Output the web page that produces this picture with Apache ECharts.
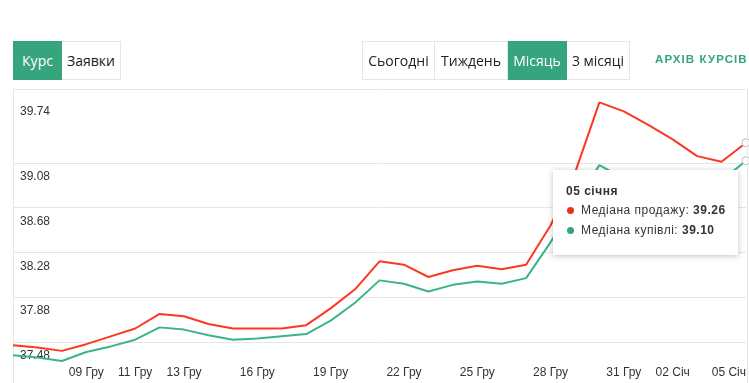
<!DOCTYPE html>
<html>
<head>
<meta charset="utf-8">
<script src="https://cdn.jsdelivr.net/npm/echarts@6/dist/echarts.min.js"></script>
<style>
  html, body { margin: 0; padding: 0; background: #fff; }
  body { width: 749px; height: 383px; overflow: hidden; position: relative; font-family: "Open Sans", "Liberation Sans", Arial, sans-serif; }
  #chart { position: absolute; left: 0; top: 0; width: 749px; height: 383px; }
  .grp { position: absolute; top: 41px; height: 39px; display: flex; }
  .btn { box-sizing: border-box; height: 39px; line-height: 37px; text-align: center; font-size: 14px; color: #222; border: 1px solid #e6e6e6; background: #fff; }
  .btn + .btn { border-left: none; }
  .btn.on { background: #36a47c; color: #fff; border-color: #36a47c; }
  .arch { position: absolute; left: 655px; top: 53px; font-family: "Liberation Sans", Arial, sans-serif; font-weight: bold; font-size: 11.5px; letter-spacing: 1.1px; color: #36a47c; }
</style>
</head>
<body>
<div id="chart"></div>
<div class="grp" style="left:13px">
  <div class="btn on" style="width:49px">Курс</div>
  <div class="btn" style="width:59px">Заявки</div>
</div>
<div class="grp" style="left:362px">
  <div class="btn" style="width:73px">Сьогодні</div>
  <div class="btn" style="width:73px">Тиждень</div>
  <div class="btn on" style="width:59px">Місяць</div>
  <div class="btn" style="width:63px">3 місяці</div>
</div>
<div class="arch">АРХІВ КУРСІВ</div>
<script>
const categories = ['06 Гру','07 Гру','08 Гру','09 Гру','10 Гру','11 Гру','12 Гру','13 Гру','14 Гру','15 Гру','16 Гру','17 Гру','18 Гру','19 Гру','20 Гру','21 Гру','22 Гру','23 Гру','24 Гру','25 Гру','26 Гру','27 Гру','28 Гру','29 Гру','30 Гру','31 Гру','01 Січ','02 Січ','03 Січ','04 Січ','05 Січ'];
const tooltipTitles = ['06 грудня','07 грудня','08 грудня','09 грудня','10 грудня','11 грудня','12 грудня','13 грудня','14 грудня','15 грудня','16 грудня','17 грудня','18 грудня','19 грудня','20 грудня','21 грудня','22 грудня','23 грудня','24 грудня','25 грудня','26 грудня','27 грудня','28 грудня','29 грудня','30 грудня','31 грудня','01 січня','02 січня','03 січня','04 січня','05 січня'];
const xTickLabels = ['09 Гру','11 Гру','13 Гру','16 Гру','19 Гру','22 Гру','25 Гру','28 Гру','31 Гру','02 Січ','05 Січ'];
const sellName = 'Медіана продажу';
const buyName = 'Медіана купівлі';
const sell = [37.45, 37.43, 37.40, 37.46, 37.53, 37.60, 37.73, 37.71, 37.64, 37.60, 37.60, 37.60, 37.63, 37.78, 37.95, 38.20, 38.17, 38.06, 38.12, 38.16, 38.13, 38.17, 38.52, 38.99, 39.62, 39.54, 39.42, 39.29, 39.14, 39.09, 39.26];
const buy  = [37.36, 37.34, 37.31, 37.39, 37.44, 37.50, 37.61, 37.59, 37.54, 37.50, 37.51, 37.53, 37.55, 37.67, 37.83, 38.03, 38.00, 37.93, 37.99, 38.02, 38.00, 38.05, 38.37, 38.72, 39.06, 38.94, 38.93, 38.92, 38.91, 38.92, 39.10];
const yTicks = [37.48, 37.88, 38.28, 38.68, 39.08, 39.74];
const yMin = 37.113;
const yMax = 39.74;
const tipIndex = 30;

const RED = '#e5331f';
const GREEN = '#36a47c';

const chart = echarts.init(document.getElementById('chart'));
const lbl = 'font-family:Liberation Sans,Arial,sans-serif;';
chart.setOption({
  animation: false,
  grid: { left: 13, right: 2, top: 89, bottom: 0, containLabel: false },
  xAxis: {
    type: 'category',
    data: categories,
    boundaryGap: false,
    axisLine: { show: false },
    axisTick: { show: false },
    splitLine: { show: false },
    axisLabel: {
      inside: true,
      margin: 4,
      interval: (i) => xTickLabels.includes(categories[i]),
      color: '#333',
      fontSize: 12,
      fontFamily: 'Liberation Sans, Arial, sans-serif',
      alignMaxLabel: 'right'
    }
  },
  yAxis: {
    type: 'value',
    min: yMin,
    max: yMax,
    axisLine: { show: true, lineStyle: { color: '#e6e6e6', width: 1 } },
    axisTick: { show: false, customValues: yTicks },
    splitLine: { show: true, lineStyle: { color: '#e6e6e6', width: 1 } },
    axisLabel: {
      inside: true,
      margin: 7,
      customValues: yTicks,
      verticalAlign: 'top',
      formatter: (v) => Math.abs(v - yMax) < 1e-6 ? '{t|' + v.toFixed(2) + '}' : '{n|' + v.toFixed(2) + '}',
      rich: {
        n: { padding: [8, 0, 0, 0], color: '#333', fontSize: 12, fontFamily: 'Liberation Sans, Arial, sans-serif' },
        t: { padding: [17, 0, 0, 0], color: '#333', fontSize: 12, fontFamily: 'Liberation Sans, Arial, sans-serif' }
      }
    }
  },
  tooltip: {
    trigger: 'axis',
    triggerOn: 'none',
    alwaysShowContent: true,
    axisPointer: { type: 'none' },
    position: [553, 170],
    backgroundColor: '#fff',
    borderWidth: 0,
    padding: [12, 13, 15, 13],
    extraCssText: 'box-shadow:0 1px 6px rgba(0,0,0,0.25);border-radius:0;width:159px;',
    formatter: (params) => {
      const idx = params[0].dataIndex;
      let s = '<div style="' + lbl + 'font-weight:bold;font-size:12px;color:#333;letter-spacing:0.5px;line-height:18px">' + tooltipTitles[idx] + '</div>';
      params.forEach(p => {
        const c = p.seriesIndex === 0 ? RED : GREEN;
        s += '<div style="' + lbl + 'font-size:12px;color:#333;line-height:20px;letter-spacing:0.5px;white-space:nowrap">' +
          '<span style="display:inline-block;width:7px;height:7px;border-radius:50%;background:' + c + ';margin:0 7px 1px 1px;vertical-align:middle"></span>' +
          p.seriesName + ': <b>' + p.value.toFixed(2) + '</b></div>';
      });
      return s;
    }
  },
  series: [
    {
      name: sellName, type: 'line', data: sell,
      showSymbol: false, symbol: 'circle', symbolSize: 8,
      lineStyle: { color: RED, width: 2 },
      itemStyle: { color: '#fff', borderColor: '#bbb', borderWidth: 1 },
      emphasis: { scale: false }
    },
    {
      name: buyName, type: 'line', data: buy,
      showSymbol: false, symbol: 'circle', symbolSize: 8,
      lineStyle: { color: GREEN, width: 2 },
      itemStyle: { color: '#fff', borderColor: '#bbb', borderWidth: 1 },
      emphasis: { scale: false }
    }
  ],
  graphic: [
    { type: 'line', shape: { x1: 747.5, y1: 89, x2: 747.5, y2: 383 }, style: { stroke: '#e6e6e6', lineWidth: 1 }, z: 100 }
  ]
});
chart.dispatchAction({ type: 'showTip', seriesIndex: 0, dataIndex: tipIndex });
</script>
</body>
</html>
